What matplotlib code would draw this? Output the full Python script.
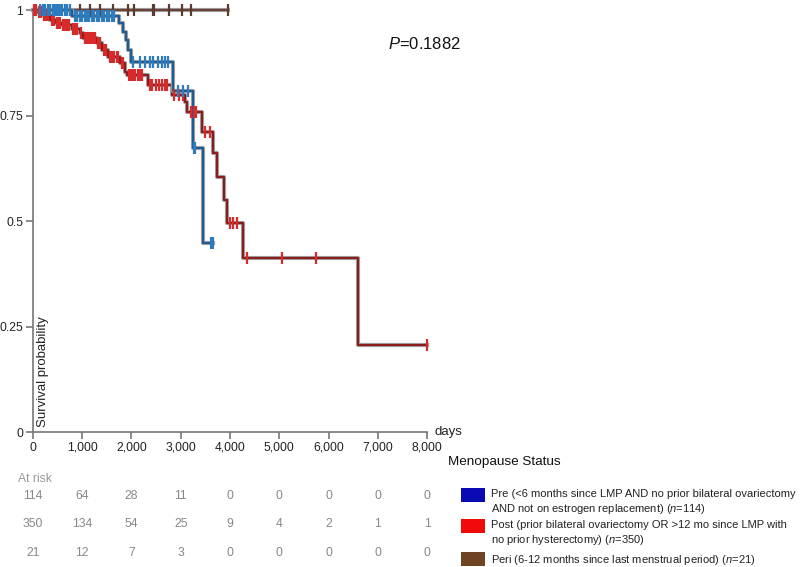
import numpy as np
import matplotlib
matplotlib.use("Agg")
import matplotlib.pyplot as plt
import matplotlib.patheffects as pe
from matplotlib.patches import Rectangle
from matplotlib.ticker import FuncFormatter

plt.rcParams['font.family'] = ['Liberation Sans', 'DejaVu Sans']
plt.rcParams['mathtext.fontset'] = 'custom'
plt.rcParams['mathtext.rm'] = 'Liberation Sans'
plt.rcParams['mathtext.it'] = 'Liberation Sans:italic'

# Kaplan-Meier steps (days, survival)
pre_times = [0, 792, 1746, 1827, 1888, 1929, 1990, 2843, 3249, 3452]
pre_surv = [1.0, 0.986, 0.969, 0.948, 0.929, 0.905, 0.877, 0.809, 0.673, 0.447]
pre_end = 3655
pre_cens = [150, 200, 250, 300, 350, 400, 450, 480, 520, 560, 600, 650, 700, 750,
            850, 900, 950, 1000, 1050, 1100, 1150, 1200, 1250, 1300, 1350, 1400,
            1450, 1500, 1550, 1600, 1650, 2030, 2173, 2274, 2376, 2437, 2538, 2619,
            2680, 2741, 2944, 3046, 3147, 3269, 3290, 3614, 3655]

post_times = [0, 81, 203, 345, 467, 589, 792, 954, 1015, 1300, 1401, 1523, 1766,
              1868, 1909, 2335, 2822, 3086, 3127, 3431, 3655, 3736, 3878, 3939,
              4264, 6599]
post_surv = [1.0, 0.995, 0.988, 0.976, 0.970, 0.964, 0.955, 0.945, 0.934, 0.922,
             0.905, 0.889, 0.874, 0.853, 0.846, 0.822, 0.799, 0.782, 0.758, 0.711,
             0.661, 0.604, 0.550, 0.495, 0.412, 0.206]
post_end = 8000
post_cens = [30, 60, 120, 160, 230, 260, 300, 380, 410, 440, 500, 530, 560, 620, 660,
             700, 740, 820, 860, 900, 980, 1060, 1100, 1140, 1180, 1220, 1260, 1330,
             1360, 1440, 1480, 1560, 1600, 1640, 1700, 1730, 1800, 1830, 1950, 1990,
             2030, 2080, 2130, 2180, 2210, 2370, 2420, 2500, 2560, 2620, 2680, 2730,
             2870, 2960, 3050, 3200, 3260, 3320, 3492, 3594, 4000, 4061, 4142, 4345,
             5056, 5746, 8000]

peri_times = [0]
peri_surv = [1.0]
peri_end = 3959
peri_cens = [203, 345, 447, 548, 690, 954, 1157, 1360, 1624, 1929, 2051, 2437, 2460,
             2761, 3025, 3208, 3959]

risk_days = [0, 1000, 2000, 3000, 4000, 5000, 6000, 7000, 8000]
risk_pre = [114, 64, 28, 11, 0, 0, 0, 0, 0]
risk_post = [350, 134, 54, 25, 9, 4, 2, 1, 1]
risk_peri = [21, 12, 7, 3, 0, 0, 0, 0, 0]

legend_labels = [
    "Pre (<6 months since LMP AND no prior bilateral ovariectomy\nAND not on estrogen replacement) ($n$=114)",
    "Post (prior bilateral ovariectomy OR >12 mo since LMP with\nno prior hysterectomy) ($n$=350)",
    "Peri (6-12 months since last menstrual period) ($n$=21)",
]
legend_colors = ['#0a0ab4', '#f00a0a', '#6e4422']

fig = plt.figure(figsize=(8, 5.67), dpi=100)
ax = fig.add_axes([0.041, 0.238, 0.493, 0.744])

def draw_km(times, surv, end, cens, line_c, cens_c):
    t = np.array(times + [end])
    s = np.array(surv + [surv[-1]])
    ax.step(t, s, where='post', color=line_c, lw=1.5, clip_on=False, zorder=3,
            path_effects=[pe.Stroke(linewidth=3.0, foreground='#a0a0a0'), pe.Normal()])
    idx = np.searchsorted(times, cens, side='right') - 1
    cy = np.array(surv)[idx]
    ax.plot(cens, cy, ls='none', marker='|', ms=8, mew=1.6, color=cens_c,
            clip_on=False, zorder=4)

draw_km(peri_times, peri_surv, peri_end, peri_cens, '#6b4236', '#5c3a30')
draw_km(post_times, post_surv, post_end, post_cens, '#8b1d1d', '#d82a2a')
draw_km(pre_times, pre_surv, pre_end, pre_cens, '#1c5c92', '#2e7cc0')

ax.set_xlim(0, 8000)
ax.set_ylim(0, 1)
for side in ['top', 'right']:
    ax.spines[side].set_visible(False)
for side in ['left', 'bottom']:
    ax.spines[side].set_color('#777777')
    ax.spines[side].set_linewidth(1.2)
ax.set_xticks(risk_days)
ax.set_yticks([0, 0.25, 0.5, 0.75, 1])
ax.set_yticklabels(['0', '0.25', '0.5', '0.75', '1'])
ax.xaxis.set_major_formatter(FuncFormatter(lambda v, p: f"{int(v):,}"))
ax.tick_params(colors='#777777', labelcolor='#222222', labelsize=8.7, length=5, width=1.2, pad=2)

ax.text(0.025, 0.012, "Survival probability", transform=ax.transAxes, rotation=90,
        ha='center', va='bottom', fontsize=9.5, color='#222222')
ax.text(1.018, 0.0, "days", transform=ax.transAxes, ha='left', va='center',
        fontsize=9.5, color='#222222')
ax.text(0.90, 0.92, "$P$=0.1882", transform=ax.transAxes, ha='left', va='center',
        fontsize=12, color='#111111')

# at-risk table
fig.text(18 / 800, 1 - 479 / 567, "At risk", ha='left', va='center', fontsize=8.7, color='#999999')
for row, y in zip([risk_pre, risk_post, risk_peri], [496, 524, 553]):
    for d, n in zip(risk_days, row):
        xf = ax.transData.transform((d, 0))[0] / fig.bbox.width
        fig.text(xf, 1 - y / 567, str(n), ha='center', va='center', fontsize=8.7,
                 color='#888888')

# legend
fig.text(448 / 800, 1 - 462 / 567, "Menopause Status", ha='left', va='center',
         fontsize=9.7, color='#111111')
for lab, col, ytop in zip(legend_labels, legend_colors, [488, 519, 552]):
    fig.add_artist(Rectangle((461 / 800, 1 - (ytop + 14) / 567), 24 / 800, 14 / 567,
                             transform=fig.transFigure, facecolor=col, edgecolor='none'))
    fig.text(491 / 800, 1 - (ytop + 1) / 567, lab, ha='left', va='top', fontsize=8.0,
             color='#222222', linespacing=1.3)

fig.savefig("out.png", dpi=100)
